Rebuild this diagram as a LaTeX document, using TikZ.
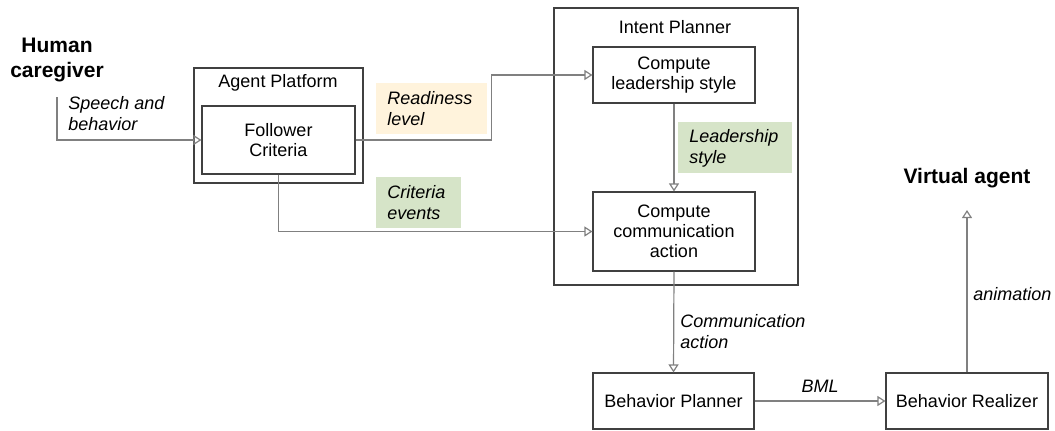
\documentclass[tikz,border=0pt]{standalone}
\usepackage{fontspec}
\setmainfont{Liberation Sans}
\usepackage{xcolor}
\definecolor{edgegray}{RGB}{64, 64, 64}
\definecolor{linegray}{RGB}{128, 128, 128}
\definecolor{readyyellow}{RGB}{255, 243, 220}
\definecolor{tagsgreen}{RGB}{214, 228, 200}
\usetikzlibrary{arrows.meta, positioning}

\begin{document}
\begin{tikzpicture}[
    x=0.5pt, y=-0.5pt,
    box/.style={rectangle, draw=edgegray, line width=0.55pt, align=center, inner sep=0pt, font=\fontsize{9}{10}\selectfont},
    tag/.style={rectangle, anchor=north west, align=left, inner xsep=5.5pt, inner ysep=0pt, minimum height=25.5pt, font=\fontsize{9}{10.5}\selectfont\itshape},
    actor/.style={align=center, font=\fontsize{10.5}{12.5}\selectfont\bfseries},
    note/.style={align=left, inner sep=0pt, font=\fontsize{9}{10.5}\selectfont\itshape},
    arrow/.style={-{Triangle[open, length=4pt, width=5pt]}, draw=linegray, line width=0.6pt}
]
    \useasboundingbox (0,0) rectangle (1055,430);

    % outer containers
    \node[box, minimum width=84.5pt, minimum height=57.5pt] (platform) at (278.5,125.5) {};
    \node[box, draw=none] (platformlbl) at (278,83) {Agent Platform};
    \node[box, minimum width=122pt, minimum height=138.5pt] (intent) at (676,146.5) {};
    \node[box, draw=none] (intentlbl) at (675,27) {Intent Planner};

    % components
    \node[box, minimum width=76.5pt, minimum height=34pt] (follower) at (278.5,140) {Follower\\Criteria};
    \node[box, minimum width=81pt, minimum height=28pt] (leader) at (674,75) {Compute\\leadership style};
    \node[box, minimum width=81pt, minimum height=39.5pt] (commact) at (674,231.5) {Compute\\communication\\action};
    \node[box, minimum width=80.5pt, minimum height=28pt] (bplanner) at (673.5,401) {Behavior Planner};
    \node[box, minimum width=81pt, minimum height=28pt] (brealizer) at (967,401) {Behavior Realizer};

    % actors
    \node[actor] (human) at (57,60) {Human\\caregiver};
    \node[actor] (virtual) at (967,178) {Virtual agent};
    \coordinate (animtip) at (967,210);

    % data tags
    \node[tag, fill=readyyellow, text width=44.5pt] (readiness) at (376,83) {Readiness\\level};
    \node[tag, fill=tagsgreen, text width=46pt] (lstyle) at (678,122) {Leadership\\style};
    \node[tag, fill=tagsgreen, text width=31.5pt] (critev) at (376,177) {Criteria\\events};

    \draw[arrow] ([yshift=-4pt]human.south) |- (follower.west);
    \draw[arrow] (follower.east) -- ++(68pt,0) |- (leader.west);
    \draw[arrow] (follower.south) |- (commact.west);
    \draw[arrow] (leader.south) -- (commact.north);
    \draw[arrow] (commact.south) -- (bplanner.north);
    \draw[arrow] (bplanner.east) -- node[note, above=4pt] (bml) {BML} (brealizer.west);
    \draw[arrow] (brealizer.north) -- (animtip);

    \node[note, anchor=west] (speech) at (68,114) {Speech and\\behavior};
    \node[note, anchor=west] (commlbl) at (680,332) {Communication\\action};
    \node[note, anchor=west] (animlbl) at (973,294) {animation};
\end{tikzpicture}
\end{document}
